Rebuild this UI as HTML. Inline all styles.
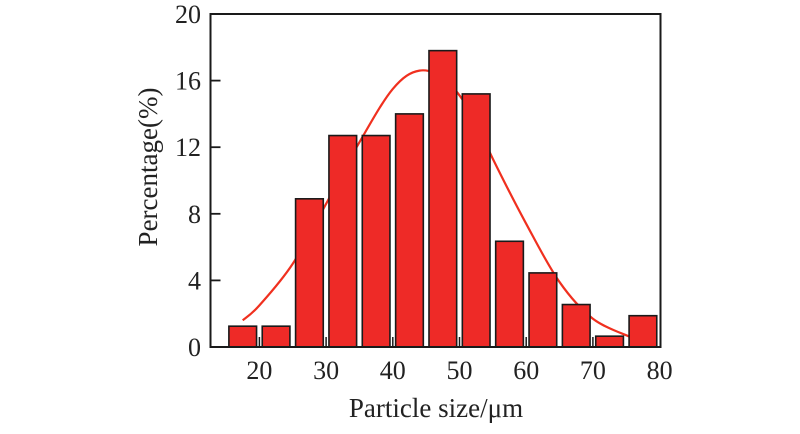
<!DOCTYPE html>
<html><head><meta charset="utf-8"><style>
html,body{margin:0;padding:0;background:#fff;}
svg{display:block;font-family:"Liberation Serif",serif;}
</style></head><body>
<svg id="chart" width="800" height="434" viewBox="0 0 800 434" xmlns="http://www.w3.org/2000/svg">
<g id="curve"></g>
<g id="bars"></g>
<g id="axes"></g>
<text x="0" y="0" transform="translate(157,167) rotate(-90)" text-anchor="middle" font-size="27" fill="#222">Percentage(%)</text>
<text x="436" y="417" text-anchor="middle" font-size="27" fill="#222">Particle size/μm</text>
</svg>
<script>
const binCenters = [17.5, 22.5, 27.5, 32.5, 37.5, 42.5, 47.5, 52.5, 57.5, 62.5, 67.5, 72.5, 77.5];
const binValues = [1.25, 1.25, 8.9, 12.7, 12.7, 14.0, 17.8, 15.2, 6.35, 4.45, 2.55, 0.65, 1.88];
const curveX = [17.5, 20, 25, 30, 35, 40, 44, 48, 52, 55, 60, 65, 70, 75.6];
const curveY = [1.6, 2.5, 5.0, 8.6, 12.3, 15.5, 16.6, 16.0, 13.9, 11.3, 7.4, 3.9, 1.7, 0.6];
const xTicks = [20, 30, 40, 50, 60, 70, 80];
const yTicks = [0, 4, 8, 12, 16, 20];

const NS = "http://www.w3.org/2000/svg";
const L = 210.5, R = 660.5, T = 14, B = 347;
function xs(v){ return 126 + (v) * 6.67; }
function ys(v){ return B - (v / 20) * (B - T); }
function mk(tag, attrs, parent){ const e = document.createElementNS(NS, tag); for (const k in attrs) e.setAttribute(k, attrs[k]); parent.appendChild(e); return e; }

const bars = document.getElementById('bars');
binCenters.forEach((c, i) => {
  const w = 4.15 * 6.67;
  const r = mk('rect', {x: xs(c) - w/2, y: ys(binValues[i]), width: w, height: B - ys(binValues[i]), fill: '#ee2a27', stroke: '#1a1a1a', 'stroke-width': 1.6}, bars);
  
  
});

const cg = document.getElementById('curve');
let d = '';
const pts = curveX.map((x, i) => [xs(x), ys(curveY[i])]);
d = 'M' + pts[0][0] + ',' + pts[0][1];
for (let i = 0; i < pts.length - 1; i++) {
  const p0 = pts[i - 1] || pts[i], p1 = pts[i], p2 = pts[i + 1], p3 = pts[i + 2] || p2;
  const c1x = p1[0] + (p2[0] - p0[0]) / 6, c1y = p1[1] + (p2[1] - p0[1]) / 6;
  const c2x = p2[0] - (p3[0] - p1[0]) / 6, c2y = p2[1] - (p3[1] - p1[1]) / 6;
  d += ' C' + c1x + ',' + c1y + ' ' + c2x + ',' + c2y + ' ' + p2[0] + ',' + p2[1];
}
const path = mk('path', {d: d, fill: 'none', stroke: '#f0301f', 'stroke-width': 2.2}, cg);



const ax = document.getElementById('axes');
const frame = mk('rect', {x: L, y: T, width: R - L, height: B - T, fill: 'none', stroke: '#1a1a1a', 'stroke-width': 2}, ax);


yTicks.forEach(v => {
  const y = ys(v);
  if (v > 0 && v < 20) {
    const t = mk('line', {x1: L, x2: L + 10, y1: y, y2: y, stroke: '#1a1a1a', 'stroke-width': 1.8}, ax);
    
    
  }
  const lb = mk('text', {x: 201, y: y + 9, 'text-anchor': 'end', 'font-size': 26, fill: '#222'}, ax);
  lb.textContent = v;
  
  
});
xTicks.forEach(v => {
  const x = xs(v);
  if (v < 80) {
    const t = mk('line', {x1: x, x2: x, y1: B, y2: B - 10, stroke: '#1a1a1a', 'stroke-width': 1.5}, ax);
    
    
  }
  const lb = mk('text', {x: x, y: 379, 'text-anchor': 'middle', 'font-size': 26, fill: '#222'}, ax);
  lb.textContent = v;
  
  
});
</script>
</body></html>
